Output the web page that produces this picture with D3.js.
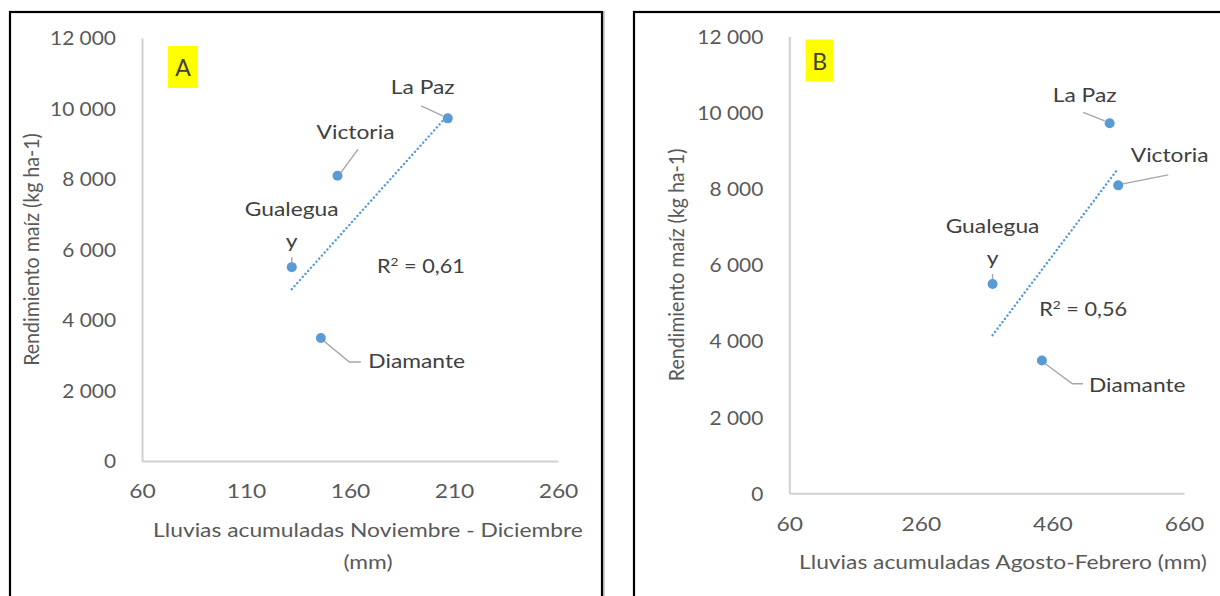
<!DOCTYPE html>
<html>
<head>
<meta charset="utf-8">
<script src="https://cdn.jsdelivr.net/npm/d3@7"></script>
<style>
  html, body { margin: 0; padding: 0; background: #fff; }
  svg { display: block; font-family: Lato, "Open Sans", sans-serif; }
</style>
</head>
<body>
<svg id="chart" width="1220" height="596"></svg>
<script>
// ---------------- DATA ----------------
const sites = ["Gualeguay", "Victoria", "La Paz", "Diamante"];
const siteLabelLines = [["Gualegua", "y"], ["Victoria"], ["La Paz"], ["Diamante"]];
const yieldKgHa = [5500, 8090, 9720, 3490];            // Rendimiento maíz (kg ha-1)
const rainNovDec = [132, 154, 207, 146];               // panel A x values (mm)
const rainAugFeb = [369, 560, 547, 444];               // panel B x values (mm)
const yTicks = [0, 2000, 4000, 6000, 8000, 10000, 12000];
const xTicksA = [60, 110, 160, 210, 260];
const xTicksB = [60, 260, 460, 660];
const panelLetters = ["A", "B"];
const r2Values = ["0,61", "0,56"];
const r2PosA = [173, 5330];   // annotation anchor in data units
const r2PosB = [440, 4660];
const yTitle = "Rendimiento maíz (kg ha-1)";
const xTitleA = ["Lluvias acumuladas Noviembre - Diciembre", "(mm)"];
const xTitleB = ["Lluvias acumuladas Agosto-Febrero (mm)"];

// ---------------- STYLE / LAYOUT ----------------
const blue = "#5b9bd5";
const tickColor = "#595959";
const labelColor = "#404040";
const axisColor = "#d0d0d0";
const leaderColor = "#a6a6a6";
const fs = 19;
const hStretch = 1.2;   // source glyphs are horizontally wider

const fmt = d3.formatLocale({decimal: ",", thousands: "\u00a0", grouping: [3], currency: ["", ""]}).format(",d");

function stretch(sel, k) {
  sel.each(function () {
    const w = this.getComputedTextLength();
    this.setAttribute("textLength", (w * k).toFixed(1));
    this.setAttribute("lengthAdjust", "spacingAndGlyphs");
  });
}

// label offsets (pixels relative to the point) per site, per panel
const labelLayout = {
  A: [
    {anchor: "middle", dx: 0, dys: [-51, -19], leader: [[0, -10], [0, -4]]},
    {anchor: "middle", dx: 18, dys: [-37], leader: [[20.5, -26.5], [3.5, -3.5]]},
    {anchor: "middle", dx: -25, dys: [-24], leader: [[-26.5, -12.5], [-5, -2.5]]},
    {anchor: "start", dx: 47.5, dys: [30.5], leader: [[3, 3], [28.5, 24], [40, 24]]}
  ],
  B: [
    {anchor: "middle", dx: 0, dys: [-51, -19], leader: [[0, -10], [0, -4]]},
    {anchor: "start", dx: 12.5, dys: [-23], leader: [[50, -10.5], [4.5, -1.5]]},
    {anchor: "middle", dx: -25, dys: [-21], leader: [[-26.5, -11], [-5, -2.5]]},
    {anchor: "start", dx: 47, dys: [31.3], leader: [[3, 3], [30.5, 23.3], [41, 23.3]]}
  ]
};

const svg = d3.select("#chart");

function panel(cfg) {
  const g = svg.append("g");
  // frame
  g.append("rect").attr("x", cfg.frame[0] + 2).attr("y", cfg.frame[1])
    .attr("width", cfg.frame[2] - cfg.frame[0]).attr("height", 700)
    .attr("fill", "none").attr("stroke", "#cfcfcf").attr("stroke-width", 2);
  g.append("rect").attr("x", cfg.frame[0]).attr("y", cfg.frame[1])
    .attr("width", cfg.frame[2] - cfg.frame[0]).attr("height", 700)
    .attr("fill", "#fff").attr("stroke", "#000").attr("stroke-width", 2.2);

  const x = d3.scaleLinear().domain(cfg.xDomain).range(cfg.xRange);
  const y = d3.scaleLinear().domain([0, 12000]).range(cfg.yRange);

  // axes
  const xAxis = g.append("g").attr("transform", `translate(0,${y(0)})`)
    .call(d3.axisBottom(x).tickValues(cfg.xTicks).tickSize(0).tickPadding(24).tickFormat(d3.format("d")));
  const yAxis = g.append("g").attr("transform", `translate(${x(cfg.xDomain[0])},0)`)
    .call(d3.axisLeft(y).tickValues(yTicks).tickSize(0).tickPadding(26).tickFormat(fmt));
  [xAxis, yAxis].forEach(a => {
    a.select(".domain").attr("stroke", axisColor).attr("stroke-width", 2);
    a.selectAll("text").attr("fill", tickColor).style("font-size", fs + "px").style("font-family", "Lato");
  });
  yAxis.selectAll("text").attr("dy", "0.36em");
  xAxis.selectAll("text").attr("dy", "0.7em");
  stretch(xAxis.selectAll("text"), hStretch);
  stretch(yAxis.selectAll("text"), 1.1);

  // trend line (least squares over the series)
  const xs = cfg.xs, ys = yieldKgHa;
  const mx = d3.mean(xs), my = d3.mean(ys);
  const sxy = d3.sum(xs, (v, i) => (v - mx) * (ys[i] - my));
  const sxx = d3.sum(xs, v => (v - mx) * (v - mx));
  const slope = sxy / sxx, icpt = my - slope * mx;
  const [x0, x1] = d3.extent(xs);
  g.append("line")
    .attr("x1", x(x0)).attr("y1", y(icpt + slope * x0))
    .attr("x2", x(x1)).attr("y2", y(icpt + slope * x1))
    .attr("stroke", blue).attr("stroke-width", 2.4)
    .attr("stroke-dasharray", "0.1,4").attr("stroke-linecap", "round");

  // leader lines
  const line = d3.line();
  cfg.layout.forEach((L, i) => {
    const px = x(xs[i]), py = y(ys[i]);
    g.append("path").attr("d", line(L.leader.map(p => [px + p[0], py + p[1]])))
      .attr("fill", "none").attr("stroke", leaderColor).attr("stroke-width", 1.4);
  });

  // points
  g.selectAll("circle.pt").data(xs).join("circle").attr("class", "pt")
    .attr("cx", (d) => x(d)).attr("cy", (d, i) => y(ys[i])).attr("r", 5)
    .attr("fill", blue);

  // data labels
  cfg.layout.forEach((L, i) => {
    const px = x(xs[i]), py = y(ys[i]);
    siteLabelLines[i].forEach((t, k) => {
      const tx = g.append("text").attr("x", px + L.dx).attr("y", py + L.dys[k])
        .attr("text-anchor", L.anchor).attr("fill", labelColor)
        .style("font-size", fs + "px").text(t);
      stretch(tx, hStretch);
    });
  });

  // R² label
  const r = g.append("text").attr("x", x(cfg.r2Pos[0])).attr("y", y(cfg.r2Pos[1]))
    .attr("fill", labelColor).style("font-size", fs + "px");
  r.append("tspan").text("R");
  r.append("tspan").attr("dy", -7).style("font-size", "12px").text("2");
  r.append("tspan").attr("dy", 7).text(" = " + cfg.r2);
  stretch(r, 1.14);

  // panel letter
  const bx = x(cfg.xDomain[0]) + cfg.letterBox[0];
  g.append("rect").attr("x", bx).attr("y", cfg.letterBox[1]).attr("width", cfg.letterBox[2]).attr("height", 42)
    .attr("fill", "#ffff00");
  g.append("text").attr("x", bx + cfg.letterBox[2] / 2).attr("y", cfg.letterBox[1] + 30)
    .attr("text-anchor", "middle").attr("fill", labelColor).style("font-size", "23px").text(cfg.letter);

  // axis titles
  g.append("text")
    .attr("transform", `translate(${cfg.yTitleX},${(y(0) + y(12000)) / 2 + cfg.yTitleShift}) rotate(-90) scale(1.03,1.15)`)
    .attr("text-anchor", "middle").attr("fill", tickColor).style("font-size", fs + "px").text(yTitle);
  cfg.xTitle.forEach((t, k) => {
    const tx = g.append("text").attr("x", cfg.xTitleX).attr("y", cfg.xTitleY + k * 32)
      .attr("text-anchor", "middle").attr("fill", tickColor).style("font-size", fs + "px").text(t);
    stretch(tx, hStretch);
  });
}

panel({
  frame: [10, 12, 602], xDomain: [60, 260], xRange: [142, 558], yRange: [461, 38],
  xTicks: xTicksA, xs: rainNovDec, layout: labelLayout.A, r2: r2Values[0], r2Pos: r2PosA,
  letter: panelLetters[0], letterBox: [26, 46, 30], yTitleX: 39, yTitleShift: 0,
  xTitle: xTitleA, xTitleX: 368, xTitleY: 537
});
panel({
  frame: [634, 12, 1240], xDomain: [60, 660], xRange: [789.3, 1184], yRange: [493.3, 36.5],
  xTicks: xTicksB, xs: rainAugFeb, layout: labelLayout.B, r2: r2Values[1], r2Pos: r2PosB,
  letter: panelLetters[1], letterBox: [16.5, 39.5, 28], yTitleX: 684, yTitleShift: 0,
  xTitle: xTitleB, xTitleX: 1003, xTitleY: 569
});
</script>
</body>
</html>
